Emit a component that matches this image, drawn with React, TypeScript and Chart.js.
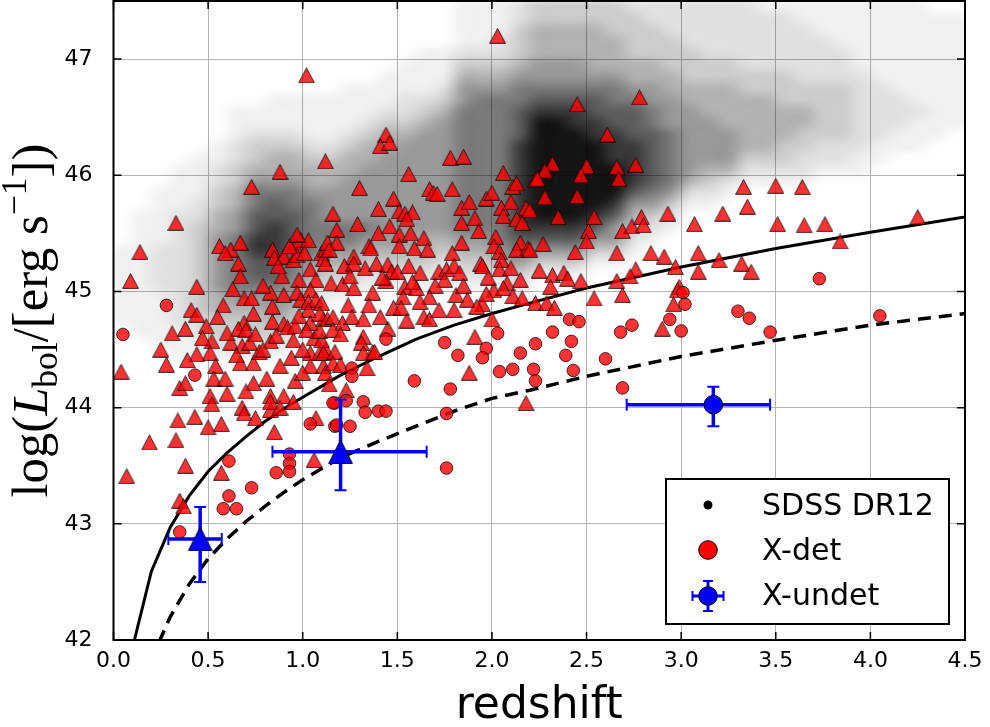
import React, { useEffect, useRef } from 'react';
import { Chart, registerables } from 'chart.js';
Chart.register(...registerables);

// ---------------- data ----------------
const xTicks = [0, 0.5, 1, 1.5, 2, 2.5, 3, 3.5, 4, 4.5];
const xTickLabels = ['0.0', '0.5', '1.0', '1.5', '2.0', '2.5', '3.0', '3.5', '4.0', '4.5'];
const yTicks = [42, 43, 44, 45, 46, 47];
const yTickLabels = ['42', '43', '44', '45', '46', '47'];

// SDSS DR12 density: one string per redshift column (0.1 wide, from z=0),
// each char a 0.1-dex cell from log L = 47.5 downwards (0 = empty, 9 = black)
const cloudZStart = 0;
const cloudLTop = 47.5;
const cloudStep = 0.1;
const cloudColumns = [
  '00000 00000 00000 00000 01111 11100 00000',
  '00000 00000 00000 00011 11111 11110 00000',
  '00000 00000 00000 01111 12222 11111 00000',
  '00000 00000 00001 11122 22222 22211 10000',
  '00000 00000 00011 11223 33333 33221 10000',
  '00000 00000 00112 23344 55555 44332 10000',
  '00000 00001 11223 34455 66666 54332 10000',
  '00000 00001 12334 56677 88776 54332 10000',
  '00000 00011 12344 56778 88776 55432 10000',
  '00000 00011 12344 56677 77665 54321 00000',
  '00000 00011 11234 45666 66543 21000 00000',
  '00000 00011 11234 45556 65432 10000 00000',
  '00000 00111 12344 55556 65432 10000 00000',
  '00000 00111 23445 55556 54321 00000 00000',
  '00000 01112 34455 55555 54321 00000 00000',
  '00000 11122 34555 55555 54321 00000 00000',
  '00001 11123 45555 55555 44321 00000 00000',
  '00001 11234 55555 55555 43210 00000 00000',
  '11112 34556 66666 66666 54321 00000 00000',
  '11112 34566 66666 66666 54321 00000 00000',
  '11122 34566 66666 66666 65421 00000 00000',
  '22333 45667 77888 88888 76532 10000 00000',
  '33444 55678 99999 99998 75310 00000 00000',
  '33444 55678 99999 99998 75310 00000 00000',
  '33444 55678 89999 99998 75310 00000 00000',
  '33444 45677 88999 99987 53100 00000 00000',
  '33344 45667 78889 99875 53100 00000 00000',
  '23333 44567 77888 87543 21000 00000 00000',
  '22333 44556 67777 76532 10000 00000 00000',
  '22233 34455 56666 65321 00000 00000 00000',
  '22223 33445 55555 42100 00000 00000 00000',
  '22222 33444 55554 32100 00000 00000 00000',
  '22222 33444 45554 21000 00000 00000 00000',
  '22222 23344 44432 10000 00000 00000 00000',
  '12222 23344 44432 10000 00000 00000 00000',
  '12222 23334 44332 10000 00000 00000 00000',
  '11222 22334 43322 10000 00000 00000 00000',
  '11122 22333 33221 00000 00000 00000 00000',
  '11112 22333 33221 00000 00000 00000 00000',
  '11111 12222 22211 00000 00000 00000 00000',
  '11111 11222 22110 00000 00000 00000 00000',
  '11111 11122 21100 00000 00000 00000 00000',
  '11111 11112 11100 00000 00000 00000 00000',
  '01111 11111 11000 00000 00000 00000 00000',
  '01111 11111 10000 00000 00000 00000 00000',
];
const cloudAlpha = [0, 0.06, 0.12, 0.2, 0.3, 0.4, 0.52, 0.64, 0.78, 0.92];

// X-detected sources (triangles)
const detTriangles: [number, number][] = [
  [1.02, 46.86],
  [0.88, 46.03], [0.73, 45.9], [0.33, 45.59], [0.14, 45.34], [0.09, 45.09], [0.44, 45.04], [0.56, 45.39],
  [0.62, 45.36], [0.67, 45.42], [0.59, 45.33], [0.66, 45.24], [0.67, 45.13], [0.84, 45.36], [0.85, 45.29],
  [0.9, 45.3], [0.89, 45.13], [0.95, 45.27], [0.96, 45.39], [0.99, 45.44], [1.03, 45.44], [0.97, 45.31],
  [1.1, 45.33], [1.12, 45.36], [1.04, 45.19], [0.98, 45.1], [1.07, 45.1], [0.83, 44.99], [0.9, 44.97],
  [0.69, 44.94], [0.73, 44.94], [0.84, 44.87], [0.97, 44.99], [0.99, 44.93], [1.04, 45.01], [1.03, 44.91],
  [1.07, 44.93], [1.1, 44.9], [1.03, 44.84], [0.74, 44.81], [0.69, 44.73], [0.41, 44.84], [0.44, 44.8],
  [0.38, 44.68], [0.31, 44.64], [0.49, 44.7], [0.66, 44.68], [0.7, 44.67], [0.84, 44.74], [0.9, 44.72],
  [0.92, 44.69], [0.83, 44.57], [0.62, 44.56], [0.68, 44.53], [0.72, 44.56], [0.52, 44.57], [0.51, 44.47],
  [0.44, 44.46], [0.39, 44.41], [0.28, 44.37], [0.04, 44.31], [0.35, 44.17], [0.38, 44.21], [0.54, 44.36],
  [0.53, 44.25], [0.59, 44.25], [0.67, 44.38], [0.74, 44.38], [0.77, 44.48], [0.74, 44.21], [0.81, 44.25],
  [0.88, 44.36], [0.94, 44.43], [0.96, 44.23], [1.04, 44.47], [1.09, 44.47], [1.12, 44.5], [1.04, 44.36],
  [1.11, 44.36], [1.0, 44.3], [0.83, 44.1], [0.9, 44.1], [0.7, 44.14], [0.51, 44.1], [1.04, 44.73],
  [1.11, 44.76], [1.09, 44.81], [0.96, 44.7], [0.98, 44.79], [1.02, 44.67], [0.75, 44.63], [0.79, 44.5],
  [0.6, 44.64],
  [0.93, 45.39], [0.97, 45.49], [1.01, 45.33], [1.11, 45.28], [0.87, 45.22], [0.79, 45.05], [0.63, 45.02],
  [0.58, 44.88], [0.86, 44.62], [0.95, 44.58], [1.06, 44.6], [0.65, 44.45], [0.47, 44.6], [0.55, 44.78],
  [0.25, 44.5], [0.6, 44.12], [0.95, 44.05], [1.0, 44.5], [1.12, 44.3],
  [0.52, 44.03], [0.68, 44.0], [0.69, 43.95], [0.75, 43.91], [0.83, 43.98], [0.83, 44.05], [0.88, 44.0],
  [0.34, 43.89], [0.43, 43.92], [0.5, 43.83], [0.57, 43.86], [0.33, 43.72], [0.19, 43.7], [0.85, 43.79],
  [0.38, 43.5], [0.57, 43.44], [0.07, 43.41], [1.06, 43.55], [1.07, 43.91], [0.35, 43.2], [0.37, 43.15],
  [2.03, 47.2], [1.44, 46.35], [1.41, 46.25], [1.46, 46.28], [1.12, 46.12], [1.78, 46.15], [1.85, 46.16],
  [1.56, 46.01], [2.06, 46.02], [2.11, 45.9], [2.13, 45.93], [2.23, 45.96], [1.3, 45.89], [1.48, 45.8],
  [1.67, 45.88], [1.69, 45.85], [1.71, 45.84], [1.79, 45.88], [1.97, 45.8], [2.0, 45.85], [2.1, 45.77],
  [1.16, 45.67], [1.4, 45.71], [1.51, 45.69], [1.54, 45.67], [1.58, 45.68], [1.84, 45.72], [1.88, 45.77],
  [1.91, 45.63], [2.05, 45.72], [2.06, 45.65], [2.18, 45.72], [1.18, 45.53], [1.29, 45.58], [1.4, 45.5],
  [1.46, 45.56], [1.51, 45.49], [1.55, 45.62], [1.57, 45.5], [1.64, 45.46], [1.84, 45.59], [1.93, 45.52],
  [2.02, 45.47], [2.13, 45.62], [2.16, 45.59], [1.35, 45.39], [1.13, 45.42], [1.18, 45.42], [1.84, 45.42],
  [2.15, 45.42],
  [1.14, 45.36], [1.27, 45.3], [1.36, 45.37], [1.51, 45.39], [1.59, 45.37], [1.66, 45.36], [1.79, 45.33],
  [1.94, 45.24], [2.01, 45.39], [2.04, 45.34], [2.05, 45.27], [2.13, 45.36], [2.19, 45.37],
  [1.12, 45.24], [1.22, 45.22], [1.27, 45.24], [1.33, 45.2], [1.39, 45.24], [1.45, 45.23], [1.47, 45.17],
  [1.5, 45.17], [1.56, 45.22], [1.62, 45.16], [1.72, 45.17], [1.76, 45.19], [1.8, 45.22], [1.83, 45.16],
  [1.95, 45.22], [2.04, 45.19], [2.15, 45.1], [2.08, 45.07],
  [1.15, 45.07], [1.21, 45.06], [1.27, 45.03], [1.37, 44.99], [1.44, 45.09], [1.54, 45.04], [1.6, 45.03],
  [1.75, 45.1], [1.81, 44.97], [1.87, 44.93], [1.95, 44.89], [2.01, 45.01], [2.06, 45.03], [2.11, 44.96],
  [2.16, 44.94], [2.23, 44.9],
  [1.25, 45.13], [1.42, 45.12], [1.58, 45.08], [1.7, 45.05], [1.85, 45.05], [1.98, 45.12], [2.1, 45.2],
  [1.53, 44.95], [1.67, 44.95], [1.97, 44.98], [1.35, 44.88], [1.24, 44.88], [1.45, 44.68], [1.55, 44.75],
  [1.1, 44.58],
  [1.13, 44.76], [1.16, 44.78], [1.21, 44.73], [1.26, 44.78], [1.32, 44.76], [1.41, 44.78], [1.48, 44.86],
  [1.52, 44.86], [1.62, 44.91], [1.64, 44.78], [1.67, 44.76], [1.72, 44.84], [1.8, 44.84], [1.92, 44.87],
  [2.0, 44.76],
  [1.09, 44.66], [1.16, 44.67], [1.2, 44.63], [1.32, 44.61], [1.37, 44.48], [1.91, 44.61],
  [1.11, 44.47], [1.17, 44.48], [1.31, 44.56], [1.32, 44.47], [1.38, 44.48], [1.34, 44.34], [1.16, 44.38],
  [1.2, 44.37], [1.88, 44.3], [1.14, 44.2], [1.23, 44.15], [2.18, 44.04],
  [2.78, 46.67], [2.45, 46.61], [2.61, 46.35], [2.32, 46.1], [2.28, 46.04], [2.24, 45.97], [2.5, 46.08],
  [2.47, 46.0], [2.66, 46.07], [2.67, 45.97], [2.76, 46.09], [2.28, 45.81], [2.45, 45.82], [2.2, 45.7],
  [2.35, 45.64], [2.54, 45.64], [2.51, 45.52], [2.5, 45.43], [2.27, 45.41], [2.44, 45.34], [2.2, 45.36],
  [2.69, 45.52], [2.74, 45.56], [2.79, 45.64], [2.8, 45.57], [2.93, 45.67], [3.07, 45.58], [3.22, 45.67],
  [3.33, 45.9], [3.35, 45.73], [2.66, 45.33], [2.84, 45.33], [2.91, 45.3], [3.09, 45.33], [3.2, 45.27],
  [2.97, 45.21], [3.09, 45.17], [3.32, 45.24], [3.37, 45.17], [2.76, 45.19], [2.73, 45.13], [2.66, 45.09],
  [2.25, 45.18], [2.32, 45.14], [2.38, 45.16], [2.4, 45.11], [2.47, 45.09], [2.31, 45.04], [2.99, 45.04],
  [2.54, 44.94], [2.69, 44.97], [2.29, 44.9], [2.33, 44.86], [2.98, 45.01], [2.96, 44.89], [2.9, 44.68],
  [3.5, 45.91], [3.64, 45.9], [3.51, 45.58], [3.65, 45.57], [3.76, 45.58], [3.84, 45.43], [4.25, 45.64],
];

// X-detected sources (circles)
const detCircles: [number, number][] = [
  [0.28, 44.88], [0.05, 44.63], [0.43, 44.28],
  [0.61, 43.54], [0.73, 43.31], [0.61, 43.24], [0.58, 43.13], [0.65, 43.13], [0.35, 42.93], [0.93, 43.6],
  [0.93, 43.52], [0.93, 43.45], [0.86, 43.44], [1.04, 43.86], [1.17, 44.04], [1.17, 43.84],
  [1.44, 44.59], [1.75, 44.56], [1.82, 44.45], [2.03, 44.64], [1.97, 44.51], [1.95, 44.43], [2.15, 44.47],
  [2.23, 44.55], [2.04, 44.31], [2.11, 44.33], [2.22, 44.33], [2.23, 44.23], [1.26, 44.34], [1.26, 44.27],
  [1.59, 44.23], [1.78, 44.16], [1.16, 44.04], [1.23, 44.06], [1.32, 44.05], [1.33, 43.96], [1.4, 43.97],
  [1.44, 43.97], [1.18, 43.85], [1.25, 43.84], [1.76, 43.95], [1.76, 43.48],
  [3.01, 44.99], [3.02, 44.89], [2.94, 44.76], [3.0, 44.66], [3.3, 44.83], [3.36, 44.77], [2.41, 44.76],
  [2.46, 44.74], [2.32, 44.65], [2.42, 44.57], [2.39, 44.45], [2.68, 44.65], [2.74, 44.71], [2.6, 44.42],
  [2.43, 44.32], [2.69, 44.17],
  [3.73, 45.11], [3.47, 44.65], [4.05, 44.79],
];

// flux-limit curves
const solidCurve: [number, number][] = [
  [0.1, 41.93], [0.2, 42.59], [0.3, 42.97], [0.4, 43.24], [0.5, 43.45], [0.6, 43.61], [0.7, 43.75],
  [0.8, 43.88], [0.9, 43.99], [1.0, 44.09], [1.2, 44.28], [1.4, 44.44], [1.6, 44.59], [1.8, 44.71],
  [2.0, 44.81], [2.2, 44.9], [2.5, 45.03], [3.0, 45.21], [3.5, 45.37], [4.0, 45.51], [4.5, 45.64],
];
const dashedCurve: [number, number][] = [
  [0.24, 41.98], [0.3, 42.2], [0.4, 42.48], [0.5, 42.7], [0.6, 42.87], [0.7, 43.02], [0.8, 43.15],
  [0.9, 43.27], [1.0, 43.38], [1.2, 43.57], [1.4, 43.71], [1.6, 43.84], [1.8, 43.97], [2.0, 44.08],
  [2.2, 44.15], [2.5, 44.27], [3.0, 44.44], [3.5, 44.58], [4.0, 44.71], [4.5, 44.81],
];

// X-undetected stacks
const undetZ = [0.458, 1.2, 3.17];
const undetL = [42.87, 43.62, 44.025];
const undetZLo = [0.29, 0.84, 2.712];
const undetZHi = [0.572, 1.655, 3.47];
const undetLLo = [42.5, 43.29, 43.84];
const undetLHi = [43.145, 44.07, 44.18];
const undetShape = ['triangle', 'triangle', 'circle'];

// ---------------- helpers ----------------
function triangleImage(w: number, h: number, fill: string, stroke: string) {
  const c = document.createElement('canvas');
  c.width = w;
  c.height = h;
  const g = c.getContext('2d')!;
  g.beginPath();
  g.moveTo(w / 2, 0.6);
  g.lineTo(0.6, h - 0.6);
  g.lineTo(w - 0.6, h - 0.6);
  g.closePath();
  g.fillStyle = fill;
  g.fill();
  g.strokeStyle = stroke;
  g.lineWidth = 1;
  g.stroke();
  return c;
}

const cloudPlugin = {
  id: 'cloudDensity',
  beforeDatasetDraw(chart: any, args: any) {
    const ds = chart.data.datasets[args.index];
    if (!ds.isCloud) return;
    const cols = cloudColumns.length;
    const rows = cloudColumns[0].replace(/ /g, '').length;
    const off = document.createElement('canvas');
    off.width = cols;
    off.height = rows;
    const octx = off.getContext('2d')!;
    const img = octx.createImageData(cols, rows);
    for (const p of ds.data) {
      const c = Math.round((p.x - cloudZStart) / cloudStep - 0.5);
      const r = Math.round((cloudLTop - p.y) / cloudStep - 0.5);
      const idx = (r * cols + c) * 4;
      img.data[idx + 3] = Math.round(cloudAlpha[p.d] * 255);
    }
    octx.putImageData(img, 0, 0);
    const xs = chart.scales.x;
    const ys = chart.scales.y;
    const x0 = xs.getPixelForValue(cloudZStart);
    const x1 = xs.getPixelForValue(cloudZStart + cols * cloudStep);
    const y0 = ys.getPixelForValue(cloudLTop);
    const y1 = ys.getPixelForValue(cloudLTop - rows * cloudStep);
    const ctx = chart.ctx;
    const a = chart.chartArea;
    ctx.save();
    ctx.beginPath();
    ctx.rect(a.left, a.top, a.right - a.left, a.bottom - a.top);
    ctx.clip();
    ctx.imageSmoothingEnabled = true;
    ctx.imageSmoothingQuality = 'high';
    ctx.filter = 'blur(2.5px)';
    ctx.drawImage(off, x0, y0, x1 - x0, y1 - y0);
    ctx.restore();
    return false;
  },
};

const decorPlugin = {
  id: 'decor',
  afterDraw(chart: any) {
    const ctx = chart.ctx;
    const a = chart.chartArea;
    const xs = chart.scales.x;
    const ys = chart.scales.y;
    ctx.save();
    // frame
    ctx.strokeStyle = '#000';
    ctx.lineWidth = 2;
    ctx.strokeRect(a.left, a.top, a.right - a.left, a.bottom - a.top);
    // inward ticks
    ctx.lineWidth = 1.5;
    ctx.beginPath();
    for (const v of xTicks) {
      const px = xs.getPixelForValue(v);
      ctx.moveTo(px, a.bottom);
      ctx.lineTo(px, a.bottom - 8);
      ctx.moveTo(px, a.top);
      ctx.lineTo(px, a.top + 8);
    }
    for (const v of yTicks) {
      const py = ys.getPixelForValue(v);
      ctx.moveTo(a.left, py);
      ctx.lineTo(a.left + 8, py);
      ctx.moveTo(a.right, py);
      ctx.lineTo(a.right - 8, py);
    }
    ctx.stroke();

    // x title
    ctx.fillStyle = '#000';
    ctx.font = '44px "DejaVu Sans"';
    ctx.textAlign = 'center';
    ctx.textBaseline = 'alphabetic';
    ctx.fillText('redshift', (a.left + a.right) / 2, 718);

    // y title (math style)
    const parts = [
      { t: 'log(', it: false, s: 1, dy: 0 },
      { t: 'L', it: true, s: 1, dy: 0 },
      { t: 'bol', it: false, s: 0.7, dy: 0.2 },
      { t: '/[erg s', it: false, s: 1, dy: 0 },
      { t: '\u22121', it: false, s: 0.7, dy: -0.42 },
      { t: '])', it: false, s: 1, dy: 0 },
    ];
    const base = 50;
    const fontOf = (p: any, size: number) =>
      `${p.it ? 'italic ' : ''}${size * p.s}px "Liberation Serif"`;
    let total = 0;
    for (const p of parts) {
      ctx.font = fontOf(p, base);
      total += ctx.measureText(p.t).width;
    }
    const size = base * (354 / total);
    ctx.translate(47, (a.top + a.bottom) / 2);
    ctx.rotate(-Math.PI / 2);
    ctx.textAlign = 'left';
    let cx = -354 / 2;
    for (const p of parts) {
      ctx.font = fontOf(p, size);
      ctx.fillText(p.t, cx, p.dy * size);
      cx += ctx.measureText(p.t).width;
    }
    ctx.setTransform(1, 0, 0, 1, 0, 0);

    // legend
    const lw = 283;
    const lh = 145;
    const lx = a.right - 16 - lw;
    const ly = a.bottom - 16 - lh;
    ctx.fillStyle = '#fff';
    ctx.fillRect(lx, ly, lw, lh);
    ctx.strokeStyle = '#000';
    ctx.lineWidth = 2;
    ctx.strokeRect(lx, ly, lw, lh);
    const mx = lx + 42;
    ctx.fillStyle = '#000';
    ctx.beginPath();
    ctx.arc(mx, ly + 26, 4.5, 0, Math.PI * 2);
    ctx.fill();
    ctx.fillStyle = '#ff0000';
    ctx.strokeStyle = '#000';
    ctx.lineWidth = 1;
    ctx.beginPath();
    ctx.arc(mx, ly + 71, 9.3, 0, Math.PI * 2);
    ctx.fill();
    ctx.stroke();
    const by = ly + 117;
    ctx.strokeStyle = '#0000ff';
    ctx.lineWidth = 3;
    ctx.beginPath();
    ctx.moveTo(mx - 15.5, by);
    ctx.lineTo(mx + 15.5, by);
    ctx.moveTo(mx, by - 15);
    ctx.lineTo(mx, by + 15);
    ctx.stroke();
    ctx.lineWidth = 2;
    ctx.beginPath();
    ctx.moveTo(mx - 15.5, by - 5);
    ctx.lineTo(mx - 15.5, by + 5);
    ctx.moveTo(mx + 15.5, by - 5);
    ctx.lineTo(mx + 15.5, by + 5);
    ctx.moveTo(mx - 5, by - 15);
    ctx.lineTo(mx + 5, by - 15);
    ctx.moveTo(mx - 5, by + 15);
    ctx.lineTo(mx + 5, by + 15);
    ctx.stroke();
    ctx.fillStyle = '#0000ff';
    ctx.strokeStyle = '#000';
    ctx.lineWidth = 1;
    ctx.beginPath();
    ctx.arc(mx, by, 9.3, 0, Math.PI * 2);
    ctx.fill();
    ctx.stroke();
    ctx.fillStyle = '#000';
    ctx.font = '30px "DejaVu Sans"';
    ctx.textAlign = 'left';
    ctx.textBaseline = 'alphabetic';
    ctx.fillText('SDSS DR12', lx + 96, ly + 36);
    ctx.fillText('X-det', lx + 96, ly + 81);
    ctx.fillText('X-undet', lx + 96, ly + 126);
    ctx.restore();
  },
};

export default function App() {
  const ref = useRef<HTMLCanvasElement | null>(null);
  useEffect(() => {
    if (!ref.current) return;
    const redTri = triangleImage(17, 16, 'rgba(255,0,0,0.8)', 'rgba(0,0,0,0.75)');
    const blueTri = triangleImage(25, 25, '#0000ff', '#000');

    const cloudCells: any[] = [];
    cloudColumns.forEach((col, c) => {
      const s = col.replace(/ /g, '');
      for (let r = 0; r < s.length; r++) {
        const d = Number(s[r]);
        if (d > 0)
          cloudCells.push({
            x: cloudZStart + (c + 0.5) * cloudStep,
            y: cloudLTop - (r + 0.5) * cloudStep,
            d,
          });
      }
    });

    const errDatasets: any[] = [];
    undetZ.forEach((z, i) => {
      errDatasets.push({
        label: 'xerr' + i,
        data: [
          { x: undetZLo[i], y: undetL[i] },
          { x: undetZHi[i], y: undetL[i] },
        ],
        showLine: true,
        borderColor: '#0000ff',
        borderWidth: 3.5,
        pointStyle: 'line',
        pointRotation: 90,
        pointRadius: 6,
        pointBorderColor: '#0000ff',
        pointBorderWidth: 2,
        order: 3,
      });
      errDatasets.push({
        label: 'yerr' + i,
        data: [
          { x: z, y: undetLLo[i] },
          { x: z, y: undetLHi[i] },
        ],
        showLine: true,
        borderColor: '#0000ff',
        borderWidth: 3.5,
        pointStyle: 'line',
        pointRotation: 0,
        pointRadius: 6,
        pointBorderColor: '#0000ff',
        pointBorderWidth: 2,
        order: 3,
      });
    });

    const chart = new Chart(ref.current, {
      type: 'scatter',
      data: {
        datasets: [
          {
            label: 'SDSS DR12',
            isCloud: true,
            data: cloudCells,
            pointRadius: 0,
            order: 20,
          } as any,
          {
            label: 'limit',
            data: solidCurve.map(([x, y]) => ({ x, y })),
            showLine: true,
            borderColor: '#000',
            borderWidth: 3,
            pointRadius: 0,
            order: 15,
          },
          {
            label: 'limit2',
            data: dashedCurve.map(([x, y]) => ({ x, y })),
            showLine: true,
            borderColor: '#000',
            borderWidth: 3.5,
            borderDash: [13, 8],
            pointRadius: 0,
            order: 15,
          },
          {
            label: 'X-det tri',
            data: detTriangles.map(([x, y]) => ({ x, y })),
            pointStyle: redTri as any,
            pointRadius: 8,
            order: 10,
          },
          {
            label: 'X-det',
            data: detCircles.map(([x, y]) => ({ x, y })),
            pointStyle: 'circle',
            pointRadius: 6.3,
            backgroundColor: 'rgba(255,0,0,0.8)',
            borderColor: 'rgba(0,0,0,0.75)',
            borderWidth: 1,
            order: 9,
          },
          ...errDatasets,
          {
            label: 'X-undet',
            data: undetZ.map((x, i) => ({ x, y: undetL[i] })),
            pointStyle: (c: any) => (undetShape[c.dataIndex] === 'triangle' ? blueTri : 'circle') as any,
            pointRadius: 9.3,
            backgroundColor: '#0000ff',
            borderColor: '#000',
            borderWidth: 1,
            order: 1,
          },
        ],
      },
      options: {
        responsive: false,
        animation: false,
        events: [],
        layout: { autoPadding: false, padding: { top: 1, right: 25, left: 0, bottom: 0 } },
        plugins: { legend: { display: false }, tooltip: { enabled: false } },
        scales: {
          x: {
            type: 'linear',
            min: 0,
            max: 4.5,
            afterBuildTicks: (s: any) => {
              s.ticks = xTicks.map((v) => ({ value: v }));
            },
            afterFit: (s: any) => {
              s.height = 87;
              s.paddingLeft = 0;
              s.paddingRight = 0;
            },
            ticks: {
              callback: (_v: any, i: number) => xTickLabels[i],
              font: { size: 22, family: 'DejaVu Sans' },
              color: '#000',
              padding: 8,
              maxRotation: 0,
              autoSkip: false,
            },
            grid: { color: '#b4b4b4', lineWidth: 1, drawTicks: false },
            border: { display: false },
          },
          y: {
            type: 'linear',
            min: 42,
            max: 47.5,
            afterBuildTicks: (s: any) => {
              s.ticks = yTicks.map((v) => ({ value: v }));
            },
            afterFit: (s: any) => {
              s.width = 113.5;
              s.paddingTop = 0;
              s.paddingBottom = 0;
            },
            ticks: {
              callback: (_v: any, i: number) => yTickLabels[i],
              font: { size: 22, family: 'DejaVu Sans' },
              color: '#000',
              padding: 21,
              autoSkip: false,
            },
            grid: { color: '#b4b4b4', lineWidth: 1, drawTicks: false },
            border: { display: false },
          },
        },
      } as any,
      plugins: [cloudPlugin as any, decorPlugin as any],
    });
    return () => chart.destroy();
  }, []);

  return (
    <div style={{ position: 'absolute', left: 0, top: 0, width: 990, height: 727, background: '#fff' }}>
      <canvas ref={ref} width={990} height={727} style={{ display: 'block' }} />
    </div>
  );
}
